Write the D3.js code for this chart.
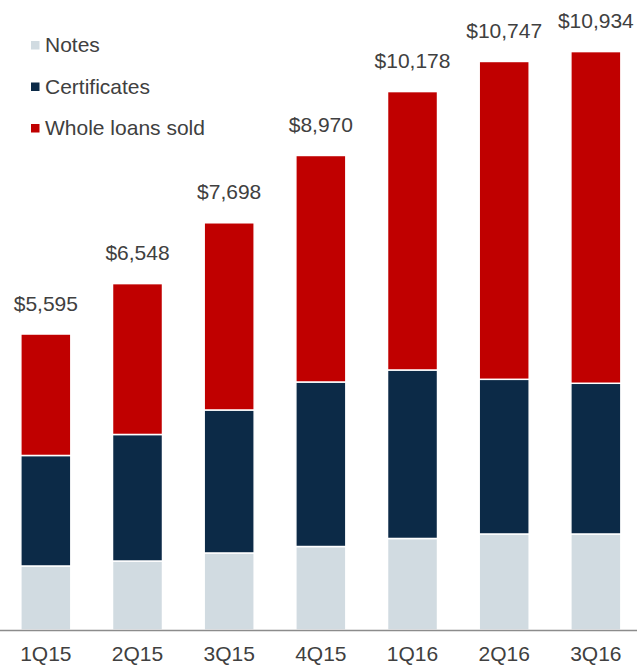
<!DOCTYPE html>
<html>
<head>
<meta charset="utf-8">
<script src="https://cdn.jsdelivr.net/npm/d3@7"></script>
<style>
  html, body { margin: 0; padding: 0; background: #fff; }
  svg { display: block; font-family: "Liberation Sans", Arial, Helvetica, sans-serif; }
</style>
</head>
<body>
<svg id="chart" width="637" height="667"></svg>
<script>
// Quarterly loan originations by funding source ($ millions)
const quarters = ["1Q15", "2Q15", "3Q15", "4Q15", "1Q16", "2Q16", "3Q16"];
const notes = [1210, 1304, 1456, 1578, 1730, 1815, 1815];
const certificates = [2089, 2392, 2703, 3110, 3185, 2924, 2849];
const wholeLoansSold = [2296, 2852, 3539, 4282, 5263, 6008, 6270];
const totals = [5595, 6548, 7698, 8970, 10178, 10747, 10934];

const seriesNames = ["Notes", "Certificates", "Whole loans sold"];
const seriesColors = ["#D1DBE1", "#0C2A47", "#C00000"];

const table = quarters.map((q, i) => ({
  quarter: q,
  "Notes": notes[i],
  "Certificates": certificates[i],
  "Whole loans sold": wholeLoansSold[i],
  total: totals[i]
}));

const svg = d3.select("#chart");
const baseY = 630;

const x = d3.scaleBand()
  .domain(quarters)
  .range([0, 641.7])
  .paddingInner(0.4545)
  .paddingOuter(0.22725);

const y = d3.scaleLinear()
  .domain([0, 11909])
  .range([baseY, 0]);

const color = d3.scaleOrdinal().domain(seriesNames).range(seriesColors);

const stacked = d3.stack().keys(seriesNames)(table);

svg.append("g")
  .selectAll("g")
  .data(stacked)
  .join("g")
  .attr("fill", d => color(d.key))
  .selectAll("rect")
  .data(d => d)
  .join("rect")
  .attr("x", d => x(d.data.quarter))
  .attr("width", x.bandwidth())
  .attr("y", d => y(d[1]))
  .attr("height", d => y(d[0]) - y(d[1]))
  .attr("stroke", "#fff")
  .attr("stroke-width", 1.5);

// Total labels above each bar
svg.append("g")
  .selectAll("text")
  .data(table)
  .join("text")
  .attr("x", d => x(d.quarter) + x.bandwidth() / 2)
  .attr("y", d => y(d.total) - 23.5)
  .attr("text-anchor", "middle")
  .attr("font-size", 21)
  .attr("fill", "#404040")
  .text(d => "$" + d3.format(",")(d.total));

// Category axis
const axis = svg.append("g")
  .attr("transform", `translate(0,${baseY})`)
  .call(d3.axisBottom(x).tickSize(0).tickPadding(20));
axis.select(".domain").remove();
axis.selectAll("text")
  .attr("font-size", 21)
  .attr("font-family", "\"Liberation Sans\", Arial, sans-serif")
  .attr("fill", "#404040")
  .attr("dy", "0.5em");
svg.append("line")
  .attr("x1", 0).attr("x2", 637)
  .attr("y1", baseY + 0.5).attr("y2", baseY + 0.5)
  .attr("stroke", "#8C8C8C")
  .attr("stroke-width", 1.5);

// Legend
const legend = svg.append("g")
  .selectAll("g")
  .data(seriesNames)
  .join("g")
  .attr("transform", (d, i) => `translate(31,${52 + i * 41.5})`);
legend.append("rect")
  .attr("x", 0).attr("y", -11)
  .attr("width", 8.5).attr("height", 8.5)
  .attr("fill", d => color(d));
legend.append("text")
  .attr("x", 14).attr("y", 0)
  .attr("font-size", 21)
  .attr("fill", "#404040")
  .text(d => d);
</script>
</body>
</html>
